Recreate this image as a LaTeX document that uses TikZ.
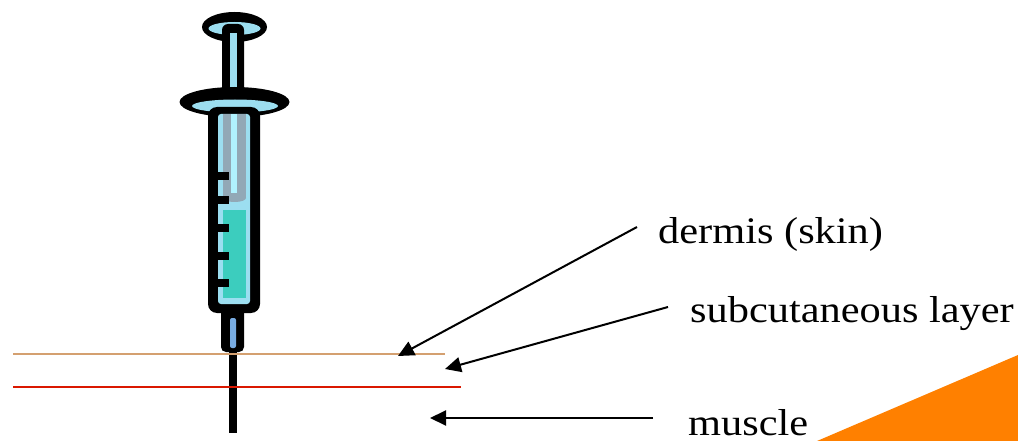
\documentclass[tikz,border=0pt]{standalone}
\usepackage{fontspec}
\setmainfont{Liberation Serif}
\usetikzlibrary{arrows.meta}
\definecolor{skinline}{RGB}{212,160,112}
\definecolor{muscleline}{RGB}{218,24,0}
\definecolor{wedge}{RGB}{255,128,0}
\definecolor{syrblue}{RGB}{156,222,240}
\definecolor{plungergrey}{RGB}{146,168,182}
\definecolor{shine}{RGB}{176,242,255}
\definecolor{liquid}{RGB}{60,205,190}
\definecolor{needleblue}{RGB}{120,172,226}
\begin{document}
\begin{tikzpicture}[x=1pt,y=-1pt,
  layertext/.style={anchor=base west, inner sep=0pt, font=\fontsize{37.5}{44}\selectfont},
  pointer/.style={line width=2pt, -{Triangle[length=16pt,width=15pt]}}]
\useasboundingbox (0,0) rectangle (1018,441);

% orange corner wedge
\fill[wedge] (817,441) -- (1018,355) -- (1018,441) -- cycle;

% --- syringe ---
% thumb disk
\fill[black] (234.5,27) ellipse [x radius=32.5, y radius=15];
\fill[syrblue] (234.5,28.5) ellipse [x radius=26, y radius=6.5];
% plunger rod
\fill[black, rounded corners=6pt] (222,24) rectangle (244,96);
\fill[syrblue] (229.5,33) rectangle (237,94);
% finger flange
\fill[black] (234.5,102) ellipse [x radius=55, y radius=15];
\fill[syrblue] (235,106) ellipse [x radius=43, y radius=6.5];
% barrel
\fill[black, rounded corners=9pt] (208,107) rectangle (260,313);
\fill[syrblue, rounded corners=3pt] (218,114) rectangle (250,304);
% plunger inside barrel
\fill[plungergrey] (223,114) rectangle (246,198);
\fill[plungergrey] (234.5,198) ellipse [x radius=11.5, y radius=4];
\fill[shine] (231,114) rectangle (237,193);
% liquid
\fill[liquid] (223,210) rectangle (246,298);
% scale marks
\foreach \t in {176,200,228,256,283}
  \fill[black] (216,\t-4) rectangle (229,\t+4);
% hub
\fill[black, rounded corners=5pt] (221,306) rectangle (244,352);
\fill[needleblue, rounded corners=2pt] (230,318) rectangle (236,348);
% needle
\fill[black] (229,350) rectangle (237,433);

% --- tissue layers ---
\draw[skinline, line width=2.5pt] (13,354) -- (445,354);
\draw[muscleline, line width=2.5pt] (13,387) -- (461,387);

% --- labels ---
\node[layertext] (dermis) at (658,243) {\scalebox{1.13}[1]{dermis (skin)}};
\node[layertext] (subcut) at (690,322) {\scalebox{1.13}[1]{subcutaneous layer}};
\node[layertext] (muscle) at (688,435) {\scalebox{1.13}[1]{muscle}};

% --- pointers ---
\coordinate (dermisTail) at (637,227);
\coordinate (dermisTip) at (398,356);
\coordinate (subcutTail) at (668,307);
\coordinate (subcutTip) at (445,369);
\coordinate (muscleTail) at (653,418);
\coordinate (muscleTip) at (430,418);
\draw[pointer] (dermisTail) -- (dermisTip);
\draw[pointer] (subcutTail) -- (subcutTip);
\draw[pointer] (muscleTail) -- (muscleTip);
\end{tikzpicture}
\end{document}
